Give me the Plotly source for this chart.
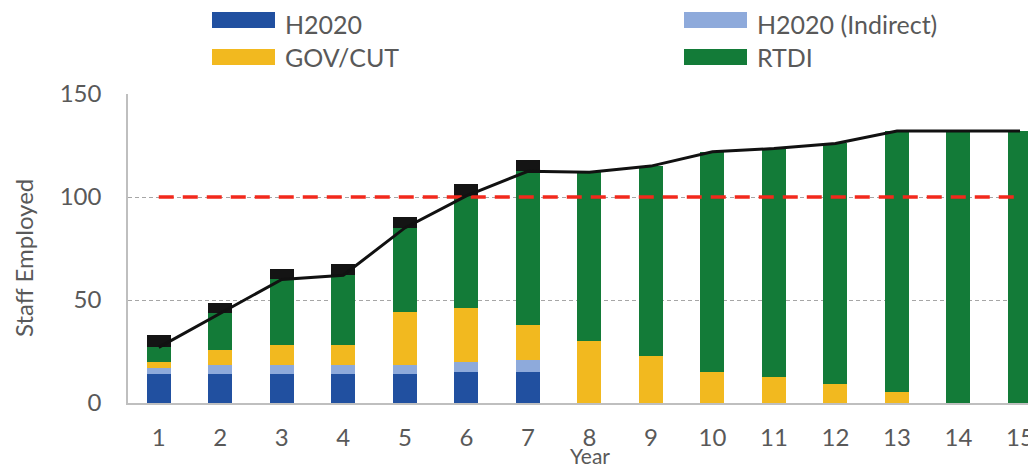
import plotly.graph_objects as go

years = list(range(1, 16))
year_labels = [str(y) for y in years]
h2020 = [14, 14, 14, 14, 14, 15, 15, 0, 0, 0, 0, 0, 0, 0, 0]
h2020_indirect = [3, 4.5, 4.5, 4.5, 4.5, 5, 6, 0, 0, 0, 0, 0, 0, 0, 0]
gov_cut = [3, 7, 9.5, 9.5, 25.5, 26, 17, 30, 23, 15, 12.5, 9, 5.5, 0, 0]
rtdi = [7, 18, 32, 34, 41, 54.5, 74.5, 82, 92, 107, 111, 117, 126.5, 132, 132]
cap = [6, 5, 5, 5.5, 5.5, 6, 5.5, 0, 0, 0, 0, 0, 0, 0, 0]
total = [27, 43.5, 60, 62, 85, 100.5, 112.5, 112, 115, 122, 123.5, 126, 132, 132, 132]
target = [100] * 15

series = [
    ("H2020", h2020, "#2150a0"),
    ("H2020 (Indirect)", h2020_indirect, "#8eaadb"),
    ("GOV/CUT", gov_cut, "#f2b91f"),
    ("RTDI", rtdi, "#137b38"),
]

FONT = "Lato"
GREY = "#595959"

# figure is drawn at an 8px page offset; these are figure-pixel layout values
W, H = 1028, 462
ML, MT, MB = 120, 86, 67
PW, PH = W - ML, H - MT - MB


def px_x(x):
    return (x - ML) / PW


def px_y(y):
    return (H - MB - y) / PH


fig = go.Figure()
for name, vals, col in series:
    fig.add_trace(go.Bar(x=years, y=vals, name=name, marker=dict(color=col, line=dict(width=0)),
                         showlegend=False))
fig.add_trace(go.Bar(x=years, y=cap, name="Other", marker=dict(color="#141414", line=dict(width=0)),
                     showlegend=False))
fig.add_trace(go.Scatter(x=years, y=target, mode="lines", name="Target",
                         line=dict(color="#f2291c", width=3.5, dash="15px,9px"), showlegend=False))
fig.add_trace(go.Scatter(x=years, y=total, mode="lines", name="Total",
                         line=dict(color="#111111", width=3), showlegend=False))

# manual legend (wide swatches)
legend_pos = [(204, 12), (676, 12), (204, 49), (676, 49)]
for i, ((name, vals, col), (lx, ly)) in enumerate(zip(series, legend_pos)):
    fig.add_shape(type="rect", xref="paper", yref="paper",
                  x0=px_x(lx), x1=px_x(lx + 63),
                  y0=px_y(ly + 8), y1=px_y(ly - 8),
                  fillcolor=col, line=dict(width=0))
    if i < 2:
        ty, anchor = px_y(-1), "top"
    else:
        ty, anchor = px_y(ly), "middle"
    fig.add_annotation(xref="paper", yref="paper", x=px_x(lx + 71), y=ty,
                       text=name, showarrow=False, xanchor="left", yanchor=anchor,
                       font=dict(family=FONT, size=25, color=GREY))

# axis titles
fig.add_annotation(xref="paper", yref="paper", x=px_x(582), y=px_y(H),
                   text="Year", showarrow=False, xanchor="center", yanchor="bottom",
                   font=dict(family=FONT, size=21, color=GREY))
fig.add_annotation(xref="paper", yref="paper", x=px_x(15), y=px_y(250),
                   text="Staff Employed", showarrow=False, textangle=-90,
                   xanchor="center", yanchor="middle",
                   font=dict(family=FONT, size=24, color=GREY))

fig.update_layout(
    width=W, height=H,
    margin=dict(l=ML, r=0, t=MT, b=MB),
    barmode="stack", bargap=0.61,
    plot_bgcolor="white", paper_bgcolor="white",
    font=dict(family=FONT, size=24, color=GREY),
)
fig.update_xaxes(range=[0.5, 15.26], tickmode="array", tickvals=years, ticktext=year_labels,
                 showline=True, linecolor="#bfbfbf", linewidth=1.5, showgrid=False,
                 ticks="", ticklabelstandoff=12, ticklabeloverflow="allow")
fig.update_yaxes(range=[0, 150], tickvals=[0, 50, 100, 150], showline=True, linecolor="#bfbfbf",
                 linewidth=1.5, showgrid=True, gridcolor="#a6a6a6", griddash="4px,3px", gridwidth=1,
                 zeroline=False, ticks="", ticklabelstandoff=20)

fig.write_html("out.html")
